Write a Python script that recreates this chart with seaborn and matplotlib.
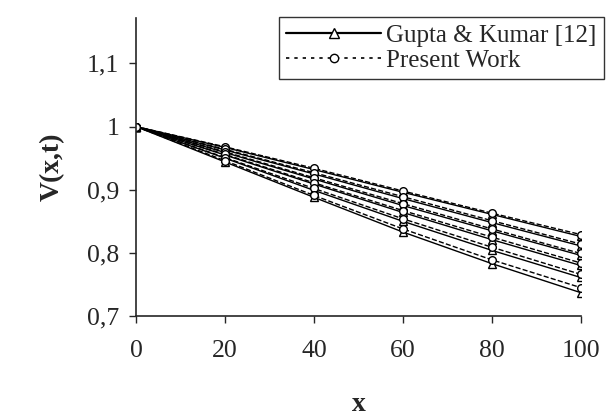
import matplotlib
matplotlib.use("Agg")
import matplotlib.pyplot as plt
import numpy as np
import pandas as pd
import seaborn as sns
from matplotlib.lines import Line2D

sns.set_style("ticks")
plt.rcParams['font.family'] = ['Liberation Serif', 'DejaVu Serif']

# x positions along the line
x = [0, 20, 40, 60, 80, 100]

# Gupta & Kumar [12] (solid, triangles), one curve per time
gupta_1 = [1.0, 0.967, 0.932, 0.896, 0.861, 0.826]
gupta_2 = [1.0, 0.963, 0.925, 0.886, 0.848, 0.811]
gupta_3 = [1.0, 0.959, 0.917, 0.875, 0.835, 0.796]
gupta_4 = [1.0, 0.955, 0.909, 0.864, 0.821, 0.780]
gupta_5 = [1.0, 0.950, 0.899, 0.850, 0.804, 0.761]
gupta_6 = [1.0, 0.944, 0.888, 0.833, 0.783, 0.737]

# Present Work (dashed, circles)
present_1 = [1.0, 0.968, 0.934, 0.898, 0.863, 0.829]
present_2 = [1.0, 0.964, 0.927, 0.889, 0.851, 0.814]
present_3 = [1.0, 0.960, 0.919, 0.878, 0.838, 0.799]
present_4 = [1.0, 0.956, 0.911, 0.867, 0.825, 0.784]
present_5 = [1.0, 0.951, 0.902, 0.854, 0.809, 0.766]
present_6 = [1.0, 0.946, 0.891, 0.838, 0.789, 0.745]

gupta = [gupta_1, gupta_2, gupta_3, gupta_4, gupta_5, gupta_6]
present = [present_1, present_2, present_3, present_4, present_5, present_6]

y_ticks = [0.7, 0.8, 0.9, 1.0, 1.1]
y_tick_labels = ['0,7', '0,8', '0,9', '1', '1,1']
x_ticks = [0, 20, 40, 60, 80, 100]

fig = plt.figure(figsize=(6.1, 4.18), dpi=100)
ax = fig.add_axes([0.223, 0.244, 0.729, 0.713])

for v in gupta:
    sns.lineplot(x=x, y=v, ax=ax, color='black', lw=1.0, marker='^',
                 markersize=6, markerfacecolor='white', markeredgecolor='black',
                 markeredgewidth=1.0)
for v in present:
    sns.lineplot(x=x, y=v, ax=ax, color='black', lw=1.0, linestyle='--',
                 dashes=(2, 2), marker='o', markersize=5.5,
                 markerfacecolor='white', markeredgecolor='black',
                 markeredgewidth=1.0)

ax.set_xlim(0, 100)
ax.set_ylim(0.7, 1.172)
ax.set_xticks(x_ticks)
ax.set_yticks(y_ticks)
ax.set_yticklabels(y_tick_labels)
ax.tick_params(labelsize=18.5, length=5, width=1.0, direction='out', pad=7)
ax.xaxis.set_tick_params(pad=12)
for s in ['top', 'right']:
    ax.spines[s].set_visible(False)
for s in ['left', 'bottom']:
    ax.spines[s].set_linewidth(1.2)

ax.set_xlabel('x', fontsize=20, fontweight='bold', labelpad=22)
ax.set_ylabel('V(x,t)', fontsize=20, fontweight='bold', labelpad=16)

handles = [
    Line2D([], [], color='black', lw=1.6, marker='^', markersize=7,
           markerfacecolor='white', markeredgecolor='black'),
    Line2D([], [], color='black', lw=1.2, linestyle=(0, (2, 3)), marker='o',
           markersize=6, markerfacecolor='white', markeredgecolor='black'),
]
leg = fig.legend(handles, ['Gupta & Kumar [12]', 'Present Work'],
                 loc='upper right', bbox_to_anchor=(0.99, 0.96),
                 fontsize=18, frameon=True, fancybox=False, handlelength=3.8,
                 handletextpad=0.2, labelspacing=0.1, borderpad=0.3,
                 borderaxespad=0.0)
leg.get_frame().set_edgecolor('black')
leg.get_frame().set_linewidth(1.0)

fig.savefig('out.png', dpi=100)
